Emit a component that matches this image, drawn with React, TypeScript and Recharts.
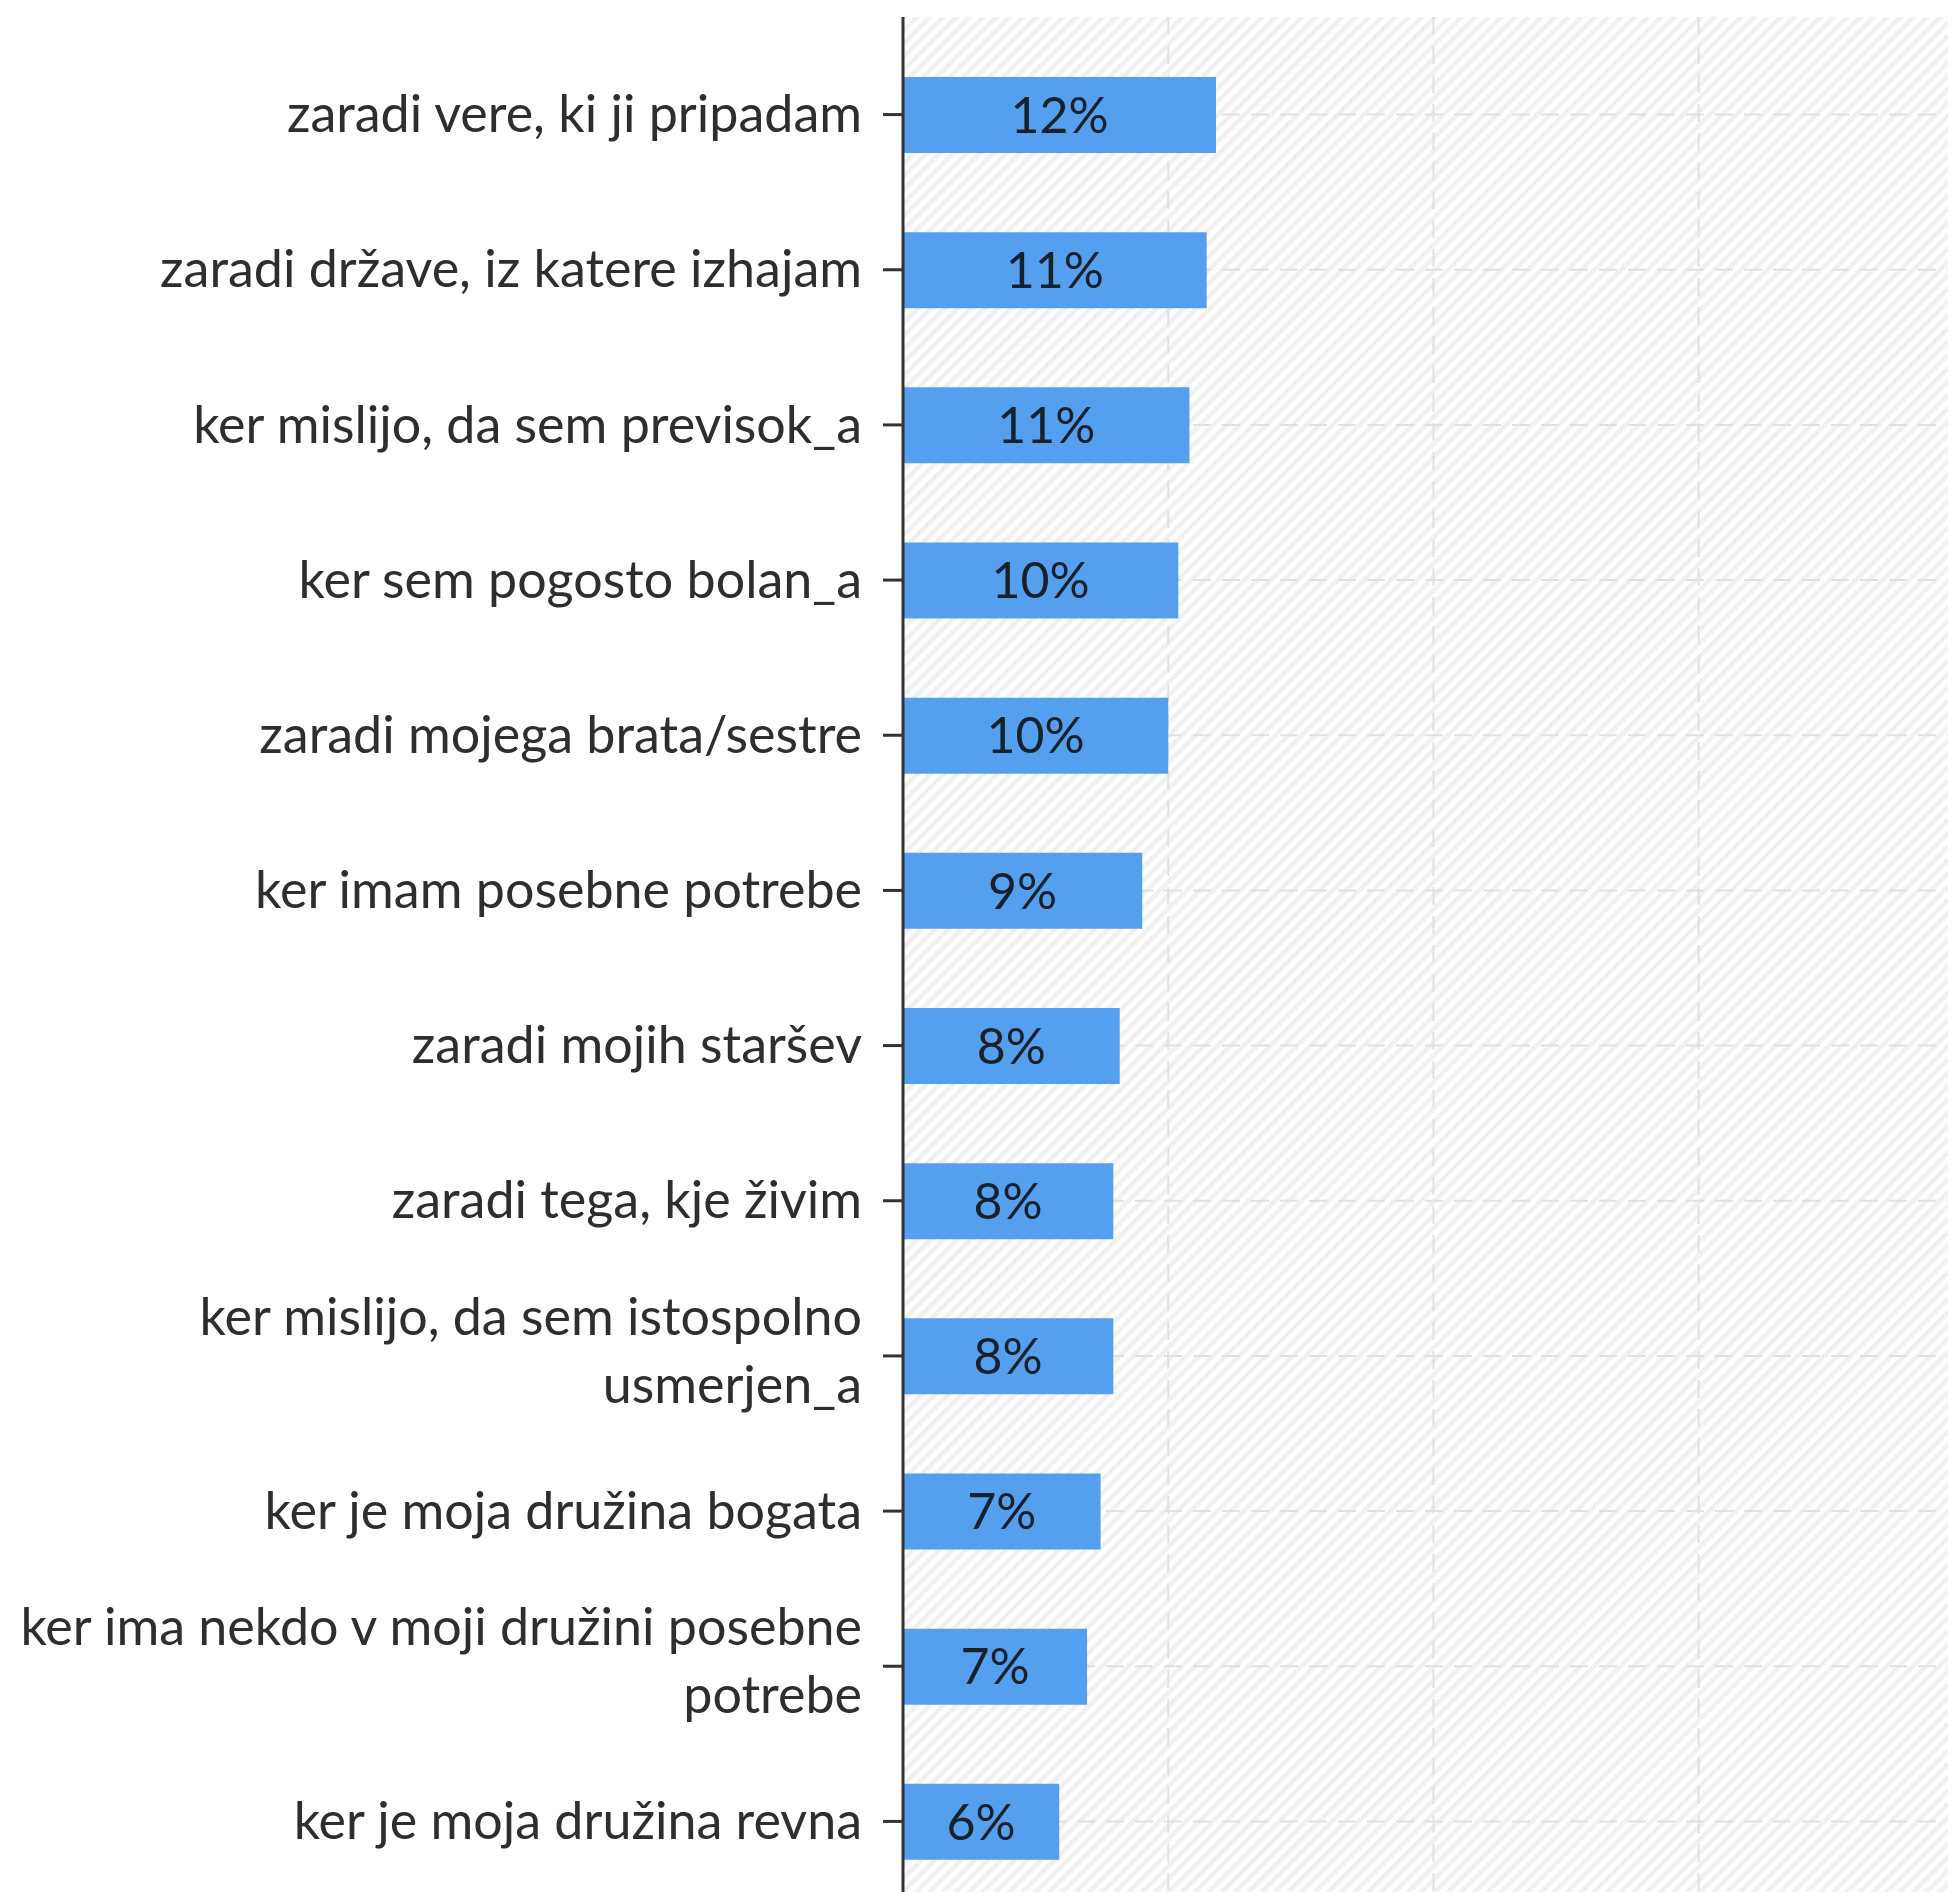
import React from 'react';
import { BarChart, Bar, XAxis, YAxis, CartesianGrid, LabelList } from 'recharts';

const categories = [
  'zaradi vere, ki ji pripadam',
  'zaradi države, iz katere izhajam',
  'ker mislijo, da sem previsok_a',
  'ker sem pogosto bolan_a',
  'zaradi mojega brata/sestre',
  'ker imam posebne potrebe',
  'zaradi mojih staršev',
  'zaradi tega, kje živim',
  'ker mislijo, da sem istospolno usmerjen_a',
  'ker je moja družina bogata',
  'ker ima nekdo v moji družini posebne potrebe',
  'ker je moja družina revna',
];

const shares = [11.8, 11.45, 10.8, 10.38, 10.0, 9.02, 8.17, 7.93, 7.93, 7.45, 6.94, 5.89];

const xTicks = [0, 10, 20, 30];

const data = categories.map((name, i) => ({ name, value: shares[i] }));

const FONT = 'Lato, "Open Sans", sans-serif';
const FONT_SIZE = 52;

// greedy word wrap, long labels go on two lines
function wrapLabel(text: string, maxChars: number): string[] {
  const words = text.split(' ');
  const lines: string[] = [];
  let cur = '';
  words.forEach((w) => {
    const next = cur ? cur + ' ' + w : w;
    if (next.length > maxChars && cur) {
      lines.push(cur);
      cur = w;
    } else {
      cur = next;
    }
  });
  if (cur) lines.push(cur);
  return lines;
}

const CategoryTick = (props: any) => {
  const { x, y, payload } = props;
  const lines = wrapLabel(payload.value, 36);
  const lineHeight = 68;
  const shift = lines.length > 1 ? -5 : 0;
  const first = -((lines.length - 1) * lineHeight) / 2 + FONT_SIZE * 0.34 + shift;
  return (
    <text x={x} y={y} textAnchor="end" fill="#2e2e2e" fontSize={FONT_SIZE} fontFamily={FONT}>
      {lines.map((line, i) => (
        <tspan key={i} x={x} dy={i === 0 ? first : lineHeight}>
          {line}
        </tspan>
      ))}
    </text>
  );
};

export default function App() {
  return (
    <div style={{ position: 'absolute', left: 0, top: 0 }}>
      <BarChart
        width={1948}
        height={1919}
        data={data}
        layout="vertical"
        margin={{ top: 17, right: 0, bottom: 0, left: 0 }}
      >
        <defs>
          <pattern
            id="hatch"
            patternUnits="userSpaceOnUse"
            width="9.4"
            height="9.4"
            patternTransform="rotate(45)"
          >
            <rect width="9.4" height="9.4" fill="#ffffff" />
            <rect width="4.5" height="9.4" fill="#f0f0f0" />
          </pattern>
        </defs>
        <CartesianGrid
          strokeDasharray="18 11"
          stroke="#e0e0e0"
          strokeWidth={2}
          fill="url(#hatch)"
          fillOpacity={1}
          syncWithTicks
        />
        <XAxis type="number" domain={[0, 39.4]} ticks={xTicks} hide />
        <YAxis
          type="category"
          dataKey="name"
          width={903}
          tickSize={20}
          tickMargin={21}
          padding={{ top: 20, bottom: 20 }}
          axisLine={{ stroke: '#333', strokeWidth: 3 }}
          tickLine={{ stroke: '#333', strokeWidth: 3 }}
          tick={<CategoryTick />}
          interval={0}
        />
        <Bar dataKey="value" fill="#549FEE" barSize={76} isAnimationActive={false}>
          <LabelList
            dataKey="value"
            position="center"
            formatter={(v: any) => Math.round(Number(v)) + '%'}
            fill="#17212b"
            fontSize={50}
            fontFamily={FONT}
          />
        </Bar>
      </BarChart>
    </div>
  );
}
